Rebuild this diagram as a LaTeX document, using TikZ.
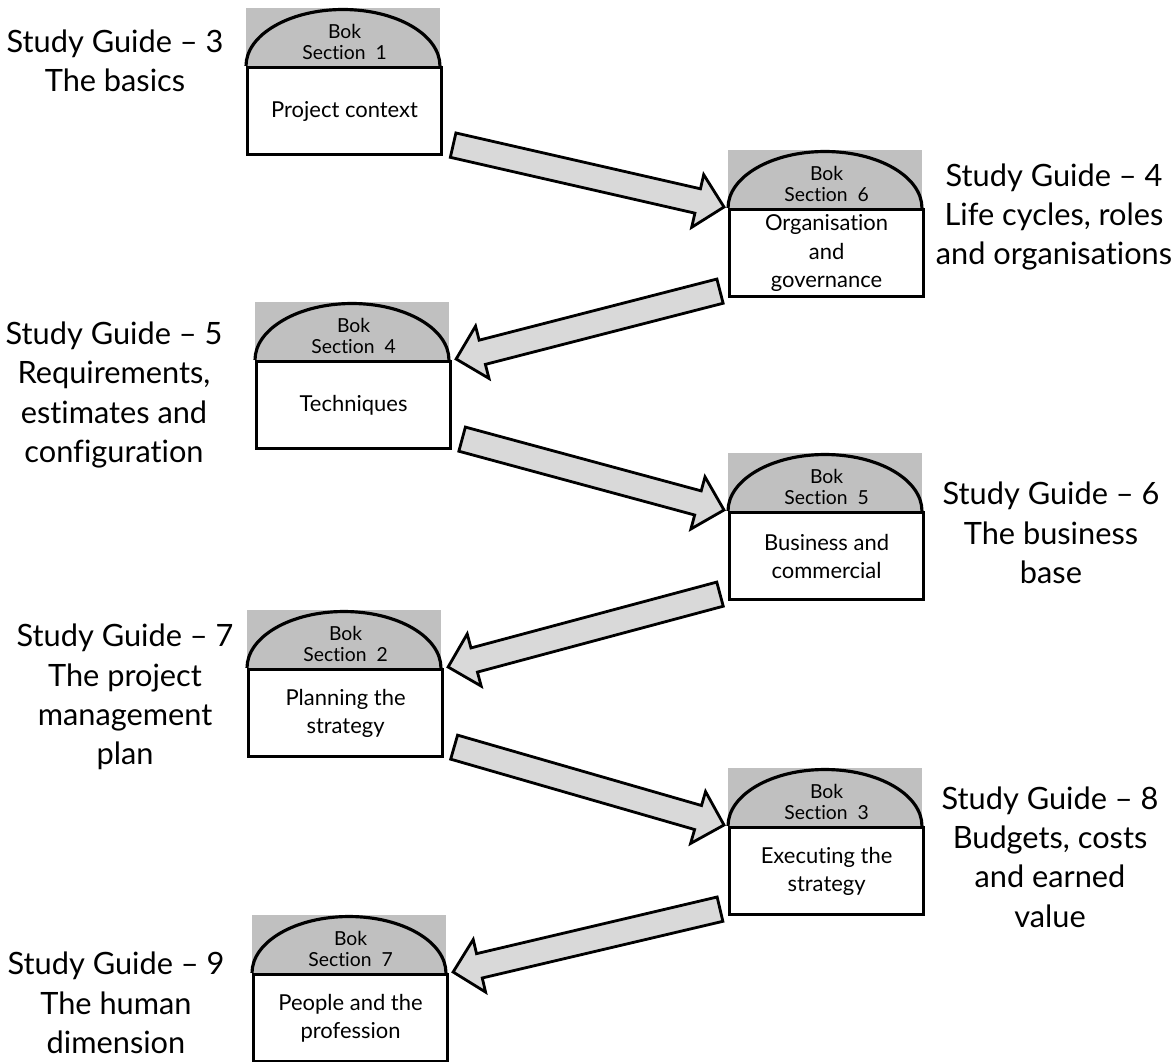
\documentclass[tikz,border=0pt]{standalone}
\usepackage{fontspec}
\setmainfont{Lato}[Ligatures=NoCommon]
\usetikzlibrary{calc, positioning}

\definecolor{grigiotesta}{HTML}{C0C0C0}
\definecolor{grigiofreccia}{HTML}{D9D9D9}

\tikzset{
    corpo/.style={draw, line width=1.8pt, fill=white, minimum width=3.88cm,
        minimum height=1.74cm, inner sep=0pt, align=center,
        font=\fontsize{12.5}{16}\selectfont},
    testa/.style={align=center, inner sep=0pt, font=\fontsize{11}{12}\selectfont},
    guida/.style={align=center, inner sep=0pt, font=\fontsize{17.5}{22.4}\selectfont},
    freccia/.style={draw, line width=1.6pt, fill=grigiofreccia, line join=miter}
}

\begin{document}
\begin{tikzpicture}[x=0.02cm, y=-0.02cm]

        \useasboundingbox (0,0) rectangle (1172,1061);

        % ==========================================
        % Macro: riquadro "Bok" con cupola grigia
        % ==========================================
        % #1 nome, #2 angolo in alto a sinistra del corpo, #3 sezione, #4 testo
        \def\bok#1#2#3#4{
            \fill[grigiotesta] (#2) rectangle ++(194,-58);
            \node[corpo, anchor=north west] (#1) at (#2) {#4};
            \draw[line width=1.8pt] (#1.north west) arc[start angle=180, end angle=0,
                x radius=1.94cm, y radius=1.13cm];
            \node[testa] (#1-testa) at ([yshift=0.48cm]#1.north) {Bok\\Section\ \ #3};
        }

        % Macro: freccia piena da #1 (coda) a #2 (punta)
        \def\freccia#1#2{
            \coordinate (base) at ($(#2)!0.54cm!(#1)$);
            \draw[freccia] ($(#1)!0.25cm!90:(#2)$) -- ($(base)!0.25cm!-90:(#1)$)
                -- ($(base)!0.54cm!-90:(#1)$) -- (#2) -- ($(base)!0.54cm!90:(#1)$)
                -- ($(base)!0.25cm!90:(#1)$) -- ($(#1)!0.25cm!-90:(#2)$) -- cycle;
        }

        % ==========================================
        % RIQUADRI delle sezioni
        % ==========================================
        \bok{s1}{246,66}{1}{Project context}
        \bok{s6}{728,208}{6}{Organisation\\and\\governance}
        \bok{s4}{255,360}{4}{Techniques}
        \bok{s5}{728,511}{5}{Business and\\commercial}
        \bok{s2}{247,668}{2}{Planning the\\strategy}
        \bok{s3}{728,826}{3}{Executing the\\strategy}
        \bok{s7}{252,973}{7}{People and the\\profession}

        % ==========================================
        % FRECCE tra i riquadri
        % ==========================================
        % verso destra
        \foreach \da/\a [count=\i] in {s1/s6, s4/s5, s2/s3} {
            \coordinate (cd\i) at ([shift={(10,-11)}]\da.south east);
            \coordinate (pd\i) at ([shift={(-4,-1)}]\a.north west);
            \freccia{cd\i}{pd\i}
        }
        % verso sinistra
        \foreach \da/\a [count=\i] in {s6/s4, s5/s2, s3/s7} {
            \coordinate (cs\i) at ([shift={(-8,-7)}]\da.south west);
            \coordinate (ps\i) at ([shift={(4,-1)}]\a.north east);
            \freccia{cs\i}{ps\i}
        }

        % ==========================================
        % TESTI delle Study Guide
        % ==========================================
        \node[guida] (sg3) at (115,61) {Study Guide -- 3\\The basics};
        \node[guida] (sg4) at (1054,217) {Study Guide -- 4\\Life cycles, roles\\and organisations};
        \node[guida] (sg5) at (114,395) {Study Guide -- 5\\Requirements,\\estimates and\\configuration};
        \node[guida] (sg6) at (1051,533) {Study Guide -- 6\\The business\\base};
        \node[guida] (sg7) at (125,697) {Study Guide -- 7\\The project\\management\\plan};
        \node[guida] (sg8) at (1050,857) {Study Guide -- 8\\Budgets, costs\\and earned\\value};
        \node[guida] (sg9) at (116,1003) {Study Guide -- 9\\The human\\dimension};

\end{tikzpicture}
\end{document}
